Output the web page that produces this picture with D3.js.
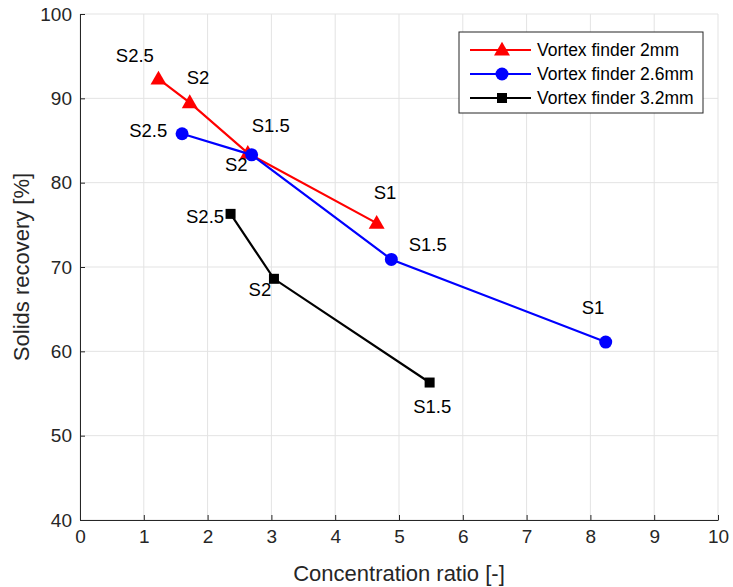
<!DOCTYPE html>
<html>
<head>
<meta charset="utf-8">
<script src="https://cdn.jsdelivr.net/npm/d3@7"></script>
<style>
  html, body { margin: 0; padding: 0; background: #fff; }
  svg { display: block; font-family: "Liberation Sans", Arial, sans-serif; }
</style>
</head>
<body>
<div id="chart"></div>
<script>
// —— Data ——
const xTicks = [0, 1, 2, 3, 4, 5, 6, 7, 8, 9, 10];
const yTicks = [40, 50, 60, 70, 80, 90, 100];

const seriesNames = ["Vortex finder 2mm", "Vortex finder 2.6mm", "Vortex finder 3.2mm"];

const red2mmX = [1.23, 1.72, 2.63, 4.65];
const red2mmY = [92.3, 89.5, 83.5, 75.2];
const red2mmLabels = ["S2.5", "S2", "S1.5", "S1"];
const red2mmLabelX = [0.86, 1.85, 2.99, 4.78];
const red2mmLabelY = [95.1, 92.5, 86.8, 78.8];

const blue26mmX = [1.60, 2.69, 4.88, 8.24];
const blue26mmY = [85.8, 83.3, 70.9, 61.1];
const blue26mmLabels = ["S2.5", "S2", "S1.5", "S1"];
const blue26mmLabelX = [1.07, 2.45, 5.45, 8.04];
const blue26mmLabelY = [86.2, 82.1, 72.7, 65.2];

const black32mmX = [2.36, 3.04, 5.48];
const black32mmY = [76.3, 68.6, 56.3];
const black32mmLabels = ["S2.5", "S2", "S1.5"];
const black32mmLabelX = [1.96, 2.82, 5.52];
const black32mmLabelY = [76.0, 67.3, 53.4];

const series = [
  { name: seriesNames[0], color: "#ff0000", marker: "triangle", xs: red2mmX, ys: red2mmY,
    labels: red2mmLabels, lx: red2mmLabelX, ly: red2mmLabelY },
  { name: seriesNames[1], color: "#0000ff", marker: "circle", xs: blue26mmX, ys: blue26mmY,
    labels: blue26mmLabels, lx: blue26mmLabelX, ly: blue26mmLabelY },
  { name: seriesNames[2], color: "#000000", marker: "square", xs: black32mmX, ys: black32mmY,
    labels: black32mmLabels, lx: black32mmLabelX, ly: black32mmLabelY },
];

// —— Layout ——
const width = 733, height = 587;
const MARGIN = { top: 14, right: 15, bottom: 67, left: 80 };
const innerWidth = width - MARGIN.left - MARGIN.right;
const innerHeight = height - MARGIN.top - MARGIN.bottom;
const AXIS_COLOR = "#262626";
const GRID_COLOR = "#e3e3e3";

const svg = d3.select("#chart").append("svg")
  .attr("width", width).attr("height", height);

const g = svg.append("g")
  .attr("transform", `translate(${MARGIN.left},${MARGIN.top})`);

const x = d3.scaleLinear().domain([0, 10]).range([0, innerWidth]);
const y = d3.scaleLinear().domain([40, 100]).range([innerHeight, 0]);

// —— Grid ——
g.append("g").selectAll("line").data(xTicks).join("line")
  .attr("x1", d => x(d)).attr("x2", d => x(d))
  .attr("y1", 0).attr("y2", innerHeight)
  .attr("stroke", GRID_COLOR).attr("stroke-width", 1);

g.append("g").selectAll("line").data(yTicks).join("line")
  .attr("y1", d => y(d)).attr("y2", d => y(d))
  .attr("x1", 0).attr("x2", innerWidth)
  .attr("stroke", GRID_COLOR).attr("stroke-width", 1);

// —— Axes (ticks inward, MATLAB style) ——
const xAxis = g.append("g")
  .attr("transform", `translate(0,${innerHeight})`)
  .call(d3.axisBottom(x).tickValues(xTicks).tickSizeInner(-5).tickSizeOuter(0).tickPadding(10));
const yAxis = g.append("g")
  .call(d3.axisLeft(y).tickValues(yTicks).tickSizeInner(-5).tickSizeOuter(0).tickPadding(8));

[xAxis, yAxis].forEach(ax => {
  ax.attr("font-size", null).attr("font-family", null);
  ax.select(".domain").attr("stroke", AXIS_COLOR);
  ax.selectAll(".tick line").attr("stroke", AXIS_COLOR);
  ax.selectAll(".tick text")
    .attr("fill", AXIS_COLOR)
    .style("font-size", "19px");
});

// —— Axis labels ——
svg.append("text")
  .attr("x", MARGIN.left + innerWidth / 2)
  .attr("y", 581)
  .attr("text-anchor", "middle")
  .attr("fill", AXIS_COLOR)
  .style("font-size", "22px")
  .text("Concentration ratio [-]");

svg.append("text")
  .attr("transform", `translate(29,${MARGIN.top + innerHeight / 2}) rotate(-90)`)
  .attr("text-anchor", "middle")
  .attr("fill", AXIS_COLOR)
  .style("font-size", "22px")
  .text("Solids recovery [%]");

// —— Markers ——
function drawMarker(sel, type, color) {
  if (type === "triangle") {
    sel.append("path")
      .attr("d", d3.symbol().type(d3.symbolTriangle).size(110)())
      .attr("transform", "translate(0,1)")
      .attr("fill", color);
  } else if (type === "circle") {
    sel.append("circle").attr("r", 6.5).attr("fill", color);
  } else {
    sel.append("rect").attr("x", -5).attr("y", -5)
      .attr("width", 10).attr("height", 10).attr("fill", color);
  }
}

const line = d3.line().x(d => x(d[0])).y(d => y(d[1]));

series.forEach(s => {
  const pts = s.xs.map((v, i) => [v, s.ys[i]]);
  g.append("path")
    .datum(pts)
    .attr("fill", "none")
    .attr("stroke", s.color)
    .attr("stroke-width", 2.2)
    .attr("d", line);

  g.append("g").selectAll("g").data(pts).join("g")
    .attr("transform", d => `translate(${x(d[0])},${y(d[1])})`)
    .each(function () { drawMarker(d3.select(this), s.marker, s.color); });
});

// —— Point labels ——
series.forEach(s => {
  g.append("g").selectAll("text").data(s.labels).join("text")
    .attr("x", (d, i) => x(s.lx[i]))
    .attr("y", (d, i) => y(s.ly[i]))
    .attr("dy", "0.35em")
    .attr("text-anchor", "middle")
    .attr("fill", "#000")
    .style("font-size", "18.5px")
    .text(d => d);
});

// —— Legend ——
const legend = svg.append("g").attr("transform", "translate(459,32)");
legend.append("rect")
  .attr("x", 0).attr("y", 0)
  .attr("width", 244).attr("height", 81)
  .attr("fill", "#fff")
  .attr("stroke", AXIS_COLOR)
  .attr("stroke-width", 1);

const legendRow = legend.selectAll(".legend-row").data(series).join("g")
  .attr("class", "legend-row")
  .attr("transform", (d, i) => `translate(0,${18 + i * 24})`);

legendRow.append("line")
  .attr("x1", 11).attr("x2", 72)
  .attr("stroke", d => d.color).attr("stroke-width", 2.2);

legendRow.append("g")
  .attr("transform", "translate(43,0)")
  .each(function (d) { drawMarker(d3.select(this), d.marker, d.color); });

legendRow.append("text")
  .attr("x", 78)
  .attr("dy", "0.35em")
  .attr("fill", "#000")
  .style("font-size", "17.5px")
  .text(d => d.name);
</script>
</body>
</html>
